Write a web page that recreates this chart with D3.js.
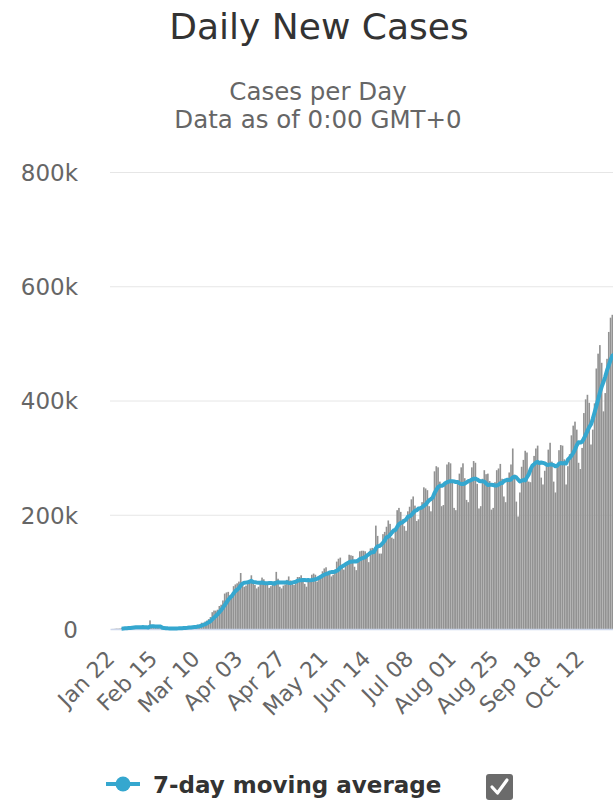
<!DOCTYPE html>
<html>
<head>
<meta charset="utf-8">
<script src="https://cdn.jsdelivr.net/npm/d3@7/dist/d3.min.js"></script>
<style>
  html, body { margin: 0; padding: 0; background: #fff; }
  svg { display: block; font-family: "DejaVu Sans", "Lucida Grande", sans-serif; }
</style>
</head>
<body>
<svg id="chart" width="613" height="800"></svg>
<script>
// ---- Data (values in thousands of cases) ----
const startDate = [2020, 0, 22]; // Jan 22, 2020
const dailyCases = [
  // Jan 22-31
  0,0.1,0.3,0.7,0.7,0.8,1.8,1.5,2.0,2.1,
  // Feb
  2.6,2.8,3.2,3.9,3.7,3.2,3.4,2.7,3.0,2.5,2.0,1.9,15.1,5.1,2.6,2.1,2.0,1.9,0.6,0.9,1.0,1.5,0.6,0.9,0.9,1.0,1.3,1.3,1.9,
  // Mar
  2.1,2.0,2.5,2.4,2.7,3.9,4.0,4.0,4.0,4.5,7.5,7.5,11.0,10.9,13.0,14.8,17.3,20.9,29.4,32.3,32.2,33.8,40.3,42.5,50.0,62.0,64.0,65.0,59.0,61.0,75.0,
  // Apr
  78,80,83,98,80,74,76,82,86,94,84,77,71,74,80,90,87,82,78,72,75,77,84,100,88,74,71,76,78,86,
  // May
  92,85,80,77,80,91,91,94,88,79,74,84,86,95,97,95,83,88,94,101,106,108,100,96,92,95,104,118,123,125,108,
  // Jun
  104,112,117,130,129,128,109,103,122,136,137,137,136,130,117,141,142,141,181,163,132,132,166,170,179,190,184,160,158,172,
  // Jul
  208,212,205,192,180,172,206,214,227,232,216,189,192,212,222,248,246,243,215,206,231,276,285,283,258,215,217,252,288,292,290,
  // Aug
  258,212,208,254,272,283,290,264,226,222,262,283,294,291,254,211,215,263,278,271,272,259,209,212,257,278,281,289,263,232,222,
  // Sep
  264,274,288,316,270,223,197,239,284,296,312,309,258,257,284,303,316,321,294,265,253,277,287,314,326,293,258,239,283,313,
  // Oct
  322,321,297,253,285,306,339,356,363,349,291,280,317,378,402,410,396,323,349,395,456,482,497,466,381,413,473,520,545,550,480
];
const movingAverage = [
  // Jan 22-31
  null,null,null,null,null,null,0.63,0.84,1.11,1.37,
  // Feb
  1.64,1.94,2.29,2.59,2.90,3.07,3.26,3.27,3.30,3.20,2.93,2.67,4.37,4.61,4.60,4.47,4.40,4.39,4.20,2.17,1.59,1.43,1.21,1.06,0.91,0.97,1.03,1.07,1.13,
  // Mar
  1.34,1.50,1.73,1.93,2.13,2.50,2.80,3.07,3.36,3.64,4.37,5.06,6.07,7.06,8.34,9.89,11.71,13.63,16.76,19.80,22.84,25.81,29.46,33.06,37.21,41.87,46.40,51.09,54.69,57.64,62.29,
  // Apr
  66.29,68.86,71.57,76.29,79.29,81.14,81.29,81.86,82.71,84.29,82.29,81.86,81.43,81.14,80.86,81.43,80.43,80.14,80.29,80.43,80.57,80.14,79.29,81.14,82.00,81.43,81.29,81.43,81.57,81.86,
  // May
  80.71,80.29,81.14,82.00,82.57,84.43,85.14,85.43,85.86,85.71,85.29,85.86,85.14,85.71,86.14,87.14,87.71,89.71,91.14,93.29,94.86,96.43,97.14,99.00,99.57,99.71,100.14,101.86,104.00,107.57,109.29,
  // Jun
  111.00,113.43,115.29,117.00,117.86,118.29,118.43,118.29,119.71,122.43,123.43,124.57,125.71,128.71,130.71,133.43,134.29,134.86,141.14,145.00,145.29,147.43,151.00,155.00,160.43,161.71,164.71,168.71,172.43,173.29,
  // Jul
  178.71,183.43,185.57,186.71,189.57,191.57,196.43,197.29,199.43,203.29,206.71,208.00,210.86,211.71,212.86,215.86,217.86,221.71,225.43,227.43,230.14,237.86,243.14,248.43,250.57,250.57,252.14,255.14,256.86,257.86,258.86,
  // Aug
  258.86,258.43,257.14,257.43,255.14,253.86,253.86,254.71,256.71,258.71,259.86,261.43,263.00,263.14,261.71,259.57,258.57,258.71,258.00,254.71,252.00,252.71,252.43,252.00,251.14,251.14,252.57,255.00,255.57,258.86,260.29,
  // Sep
  261.29,260.71,261.71,265.57,266.57,265.29,261.71,258.14,259.57,260.71,260.14,265.71,270.71,279.29,285.71,288.43,291.29,292.57,290.43,291.43,290.86,289.86,287.57,287.29,288.00,287.86,286.86,284.86,285.71,289.43,
  // Oct
  290.57,289.86,290.43,289.71,296.29,299.57,303.29,308.14,314.14,321.57,327.00,326.29,327.86,333.43,340.00,346.71,353.43,358.00,367.86,379.00,390.14,401.57,414.00,424.00,432.29,441.43,452.57,461.71,470.71,478.29,480.29
];
const yTickValues = [0, 200, 400, 600, 800];
const yTickLabels = ["0", "200k", "400k", "600k", "800k"];
const xTickLabels = ["Jan 22","Feb 15","Mar 10","Apr 03","Apr 27","May 21","Jun 14","Jul 08","Aug 01","Aug 25","Sep 18","Oct 12"];
const titleText = "Daily New Cases";
const subtitleLines = ["Cases per Day", "Data as of 0:00 GMT+0"];
const legendLabel = "7-day moving average";

// ---- Categories ----
const fmt = d3.timeFormat("%b %d");
const start = new Date(startDate[0], startDate[1], startDate[2]);
const categories = dailyCases.map((_, i) => fmt(d3.timeDay.offset(start, i)));

// ---- Layout ----
const svg = d3.select("#chart");
const plotLeft = 110, plotRight = 615, plotTop = 172, plotBottom = 629;

const x = d3.scaleBand().domain(categories).range([plotLeft, plotRight]).paddingInner(0.08).paddingOuter(0.04);
const y = d3.scaleLinear().domain([0, 800]).range([plotBottom, plotTop]);

// Title & subtitle
svg.append("text").attr("x", 319).attr("y", 39).attr("text-anchor", "middle")
  .attr("font-size", 36).attr("fill", "#333").text(titleText);
svg.selectAll("text.sub").data(subtitleLines).join("text").attr("class", "sub")
  .attr("x", 318).attr("y", (d, i) => 100 + i * 28).attr("text-anchor", "middle")
  .attr("font-size", 24.5).attr("fill", "#666").text(d => d);

// Gridlines + y labels
const yAxis = d3.axisLeft(y).tickValues(yTickValues).tickSize(-(plotRight - plotLeft))
  .tickFormat((d, i) => yTickLabels[i]).tickPadding(32);
const gy = svg.append("g").attr("transform", `translate(${plotLeft},0)`).call(yAxis);
gy.select(".domain").remove();
gy.selectAll(".tick line").attr("stroke", "#e6e6e6").attr("stroke-width", 1)
  .filter(d => d === 0).remove();
gy.selectAll(".tick text").attr("font-size", 23).attr("fill", "#666")
  .attr("font-family", "DejaVu Sans").attr("dy", "0.36em");

// Bars
svg.append("g").selectAll("rect").data(dailyCases).join("rect")
  .attr("x", (d, i) => x(categories[i]))
  .attr("width", x.bandwidth())
  .attr("y", d => y(d))
  .attr("height", d => y(0) - y(d))
  .attr("fill", "#929292");

// X axis
const xAxis = d3.axisBottom(x).tickValues(xTickLabels).tickSize(0).tickPadding(0);
const gx = svg.append("g").attr("transform", `translate(0,${plotBottom})`).call(xAxis);
gx.select(".domain").attr("stroke", "#ccd6eb").attr("stroke-width", 1.5);
gx.selectAll(".tick text")
  .attr("font-size", 22).attr("fill", "#666").attr("font-family", "DejaVu Sans")
  .attr("text-anchor", "end").attr("dy", 0).attr("y", 0)
  .attr("transform", "translate(5,31) rotate(-45)");

// Moving average line
const line = d3.line()
  .defined(d => d != null)
  .x((d, i) => x(categories[i]) + x.bandwidth() / 2)
  .y(d => y(d));
svg.append("path").datum(movingAverage)
  .attr("d", line)
  .attr("fill", "none")
  .attr("stroke", "#35a7cf")
  .attr("stroke-width", 4)
  .attr("stroke-linejoin", "round");

// Legend
const lg = svg.append("g");
lg.append("line").attr("x1", 106).attr("x2", 140).attr("y1", 784).attr("y2", 784)
  .attr("stroke", "#35a7cf").attr("stroke-width", 4);
lg.append("circle").attr("cx", 123).attr("cy", 784).attr("r", 7.5).attr("fill", "#35a7cf");
lg.append("text").attr("x", 153).attr("y", 793).attr("font-size", 23).attr("font-weight", "bold")
  .attr("fill", "#333").text(legendLabel);
// checkbox
lg.append("rect").attr("x", 486).attr("y", 774).attr("width", 27).attr("height", 26).attr("rx", 3)
  .attr("fill", "#6b6b6b");
lg.append("path").attr("d", "M492,787 L497.5,793 L507,780")
  .attr("fill", "none").attr("stroke", "#fff").attr("stroke-width", 3.2)
  .attr("stroke-linecap", "round").attr("stroke-linejoin", "round");
</script>
</body>
</html>
